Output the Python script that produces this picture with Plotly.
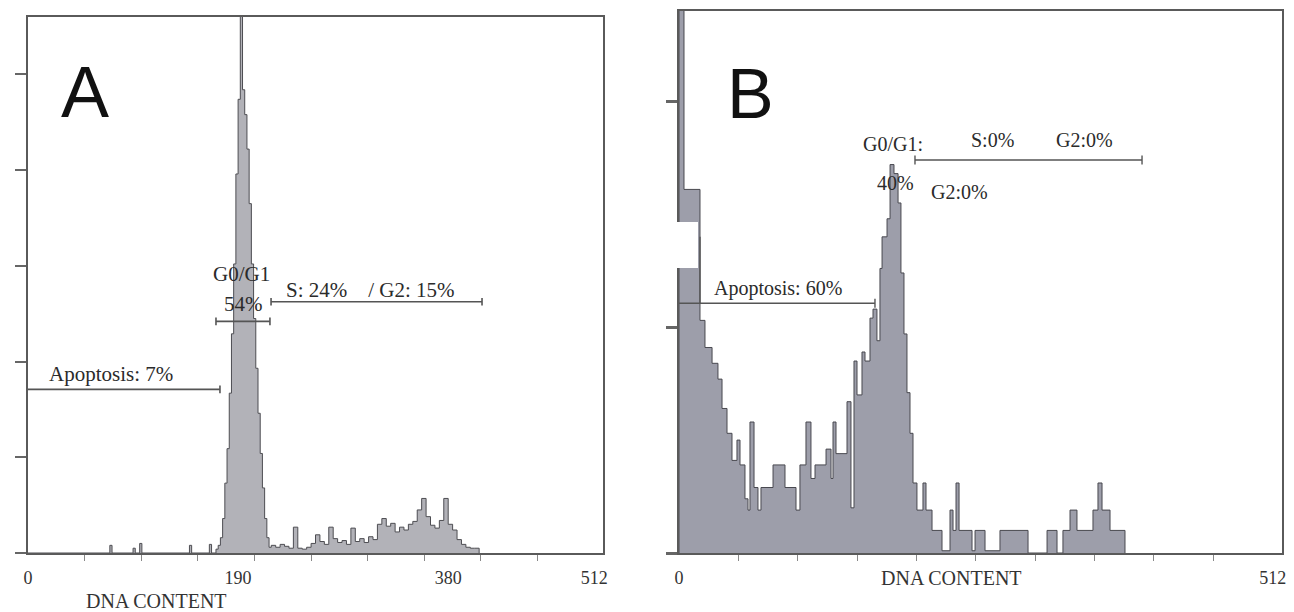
import plotly.graph_objects as go

# ---------------- Panel A data (channel left edges, counts) ----------------
a_left = [0, 74, 76, 95, 97, 101, 103, 146, 148, 164, 166,
          170, 172, 174, 176, 178, 180, 182, 184, 186, 188, 190, 192, 194, 196,
          198, 200, 202, 204, 206, 208, 210, 212, 214, 216, 218,
          220, 224, 228, 232, 236, 240, 244, 248, 252, 256, 260, 264, 268, 272,
          276, 280, 284, 288, 292, 296, 300, 304, 308, 312, 316, 320, 324, 328,
          332, 336, 340, 344, 348, 352, 356, 360, 364, 368, 372, 376, 380, 384,
          388, 392, 396, 400, 404]
a_counts = [0, 8, 0, 5, 0, 10, 0, 8, 0, 9, 0,
            4, 8, 16, 36, 73, 109, 167, 229, 302, 396, 474, 600, 484, 458,
            422, 365, 302, 245, 193, 146, 104, 68, 36, 16, 6,
            8, 6, 9, 7, 5, 27, 5, 4, 6, 10, 19, 12, 9, 27,
            15, 11, 13, 9, 26, 12, 15, 11, 17, 14, 30, 36, 28, 31,
            22, 27, 24, 30, 33, 45, 57, 38, 29, 26, 34, 57, 30, 24,
            14, 9, 6, 5, 5]
a_end = 408

# ---------------- Panel B data ----------------
b_left = [0, 4.3, 18.1, 22.4, 28.5, 33.6, 37.1, 41.4, 45.7, 50.0, 52.6, 56.9,
          59.5, 61.2, 64.7, 68.1, 70.7, 81.1, 91.4, 100.9, 104.3, 109.5, 113.8,
          117.3, 126.8, 131.1, 132.8, 135.4, 138.8, 144.9, 148.3, 150.9, 153.5,
          157.8, 160.4, 164.7, 167.3, 170.7, 173.3, 175.1, 179.4, 182.0, 185.4,
          188.9, 191.4, 194.0, 196.6, 199.2, 201.8, 205.2, 207.8, 210.4, 213.0,
          218.2, 226.8, 233.7, 236.3, 238.9, 241.5, 252.7, 255.3, 263.9, 276.8,
          301.0, 317.4, 326.0, 331.1, 337.2, 343.2, 357.0, 361.3, 364.8, 371.7]
b_counts = [300, 161, 103, 91, 84, 77, 64, 53, 41, 50, 39, 24,
            19, 58, 29, 19, 29, 39, 29, 19, 39, 58, 33,
            39, 46, 33, 58, 44, 44, 67, 20, 85, 70,
            89, 85, 104, 108, 94, 126, 140, 148, 172, 168,
            155, 124, 97, 71, 53, 31, 19, 19, 31, 19,
            10, 1, 19, 10, 31, 10, 1, 10, 1, 10,
            0, 10, 0, 10, 19, 10, 19, 31, 19, 10]
b_end = 384.6

# gates (marker bars)
a_gate_x0 = [0, 170, 219.8]
a_gate_x1 = [173.6, 218.8, 410.6]
a_gate_y = [171, 242, 262.5]
b_gate_x0 = [0, 203.5]
b_gate_x1 = [169, 399.3]
b_gate_y = [110.6, 174]
b_marker_x = 18.1
b_marker_y = [110.6, 140]

# labels
a_text = ["Apoptosis: 7%", "G0/G1", "54%", "S: 24%\u00a0\u00a0\u00a0\u00a0/ G2: 15%"]
a_text_x = [75.5, 193, 195, 309.7]
a_text_y = [187.5, 292, 260, 275]
b_text = ["Apoptosis: 60%", "G0/G1:", "S:0%", "G2:0%", "40%", "G2:0%"]
b_text_x = [85.4, 184.5, 270, 350, 187, 242]
b_text_y = [117, 181, 183, 183, 164, 160]

x_ticks = [0, 190, 380, 512]
b_x_ticks = [0, 512]
minor_x = [51.2, 102.4, 153.6, 204.8, 256.0, 307.2, 358.4, 409.6, 460.8]

SERIF = "Liberation Serif"
W, H = 1294, 612


def hist_xy(left, counts, end):
    return [left[0]] + left + [end], [0] + counts + [0]


def gate_xy(x0s, x1s, ys, tick, skip_zero=True):
    xs, yv = [], []
    for x0, x1, y in zip(x0s, x1s, ys):
        xs += [x0, x1, None]
        yv += [y, y, None]
        for xe in (x0, x1):
            if skip_zero and xe == 0:
                continue
            xs += [xe, xe, None]
            yv += [y - tick, y + tick, None]
    return xs, yv


fig = go.Figure()

ax, ay = hist_xy(a_left, a_counts, a_end)
fig.add_trace(go.Scatter(x=ax, y=ay, mode="lines", line=dict(shape="hv", color="#4d4d52", width=1),
                         fill="tozeroy", fillcolor="#b2b2b8", xaxis="x", yaxis="y", hoverinfo="skip"))
bx, by = hist_xy(b_left, b_counts, b_end)
fig.add_trace(go.Scatter(x=bx, y=by, mode="lines", line=dict(shape="hv", color="#48484f", width=1),
                         fill="tozeroy", fillcolor="#9d9eaa", xaxis="x2", yaxis="y2", hoverinfo="skip"))

gx, gy = gate_xy(a_gate_x0, a_gate_x1, a_gate_y, 4)
fig.add_trace(go.Scatter(x=gx, y=gy, mode="lines", line=dict(color="#555", width=1.6),
                         xaxis="x", yaxis="y", hoverinfo="skip"))
gx, gy = gate_xy(b_gate_x0, b_gate_x1, b_gate_y, 2)
gx += [b_marker_x, b_marker_x, None]
gy += b_marker_y + [None]
fig.add_trace(go.Scatter(x=gx, y=gy, mode="lines", line=dict(color="#555", width=1.4),
                         xaxis="x2", yaxis="y2", hoverinfo="skip"))

ann = []
for t, x, y in zip(a_text, a_text_x, a_text_y):
    ann.append(dict(text=t, x=x, y=y, xref="x", yref="y", showarrow=False,
                    xanchor="center", yanchor="middle",
                    font=dict(family=SERIF, size=21, color="#2b2b2b")))
for t, x, y in zip(b_text, b_text_x, b_text_y):
    ann.append(dict(text=t, x=x, y=y, xref="x2", yref="y2", showarrow=False,
                    xanchor="center", yanchor="middle",
                    font=dict(family=SERIF, size=20, color="#2b2b2b")))


def paper_text(text, px, py, size, family, color):
    return dict(text=text, x=px / W, y=1 - py / H, xref="paper", yref="paper", showarrow=False,
                xanchor="center", yanchor="middle", font=dict(family=family, size=size, color=color))


# panel letters and axis titles
ann.append(paper_text("A", 85, 92, 72, "Liberation Sans", "#111"))
ann.append(paper_text("B", 750, 94, 70, "Liberation Sans", "#111"))
ann.append(paper_text("DNA CONTENT", 156, 601, 20, SERIF, "#333"))
ann.append(paper_text("DNA CONTENT", 951, 578, 20, SERIF, "#333"))

axis_common = dict(showgrid=False, zeroline=False, showline=True, mirror=True,
                   linecolor="#5a5a5a", linewidth=1.6)

fig.update_layout(
    width=W, height=H, margin=dict(l=0, r=0, t=0, b=0, autoexpand=False),
    paper_bgcolor="white", plot_bgcolor="white", showlegend=False,
    xaxis=dict(domain=[28 / W, 603 / W], range=[0, 520], tickmode="array", tickvals=x_ticks,
               ticktext=[str(v) for v in x_ticks], ticks="", ticklabelstandoff=8,
               tickfont=dict(family=SERIF, size=18, color="#333"),
               minor=dict(tickmode="array", tickvals=minor_x, ticks="outside", ticklen=6,
                          tickcolor="#888", tickwidth=1), anchor="y", **axis_common),
    yaxis=dict(domain=[1 - 553 / H, 1 - 17 / H], range=[0, 560], tick0=0, dtick=100,
               ticks="outside", ticklen=11, tickwidth=1.5, tickcolor="#666",
               showticklabels=False, anchor="x", **axis_common),
    xaxis2=dict(domain=[679 / W, 1282 / W], range=[0, 520], tickmode="array", tickvals=b_x_ticks,
                ticktext=[str(v) for v in b_x_ticks], ticks="", ticklabelstandoff=8,
                tickfont=dict(family=SERIF, size=18, color="#333"),
                minor=dict(tickmode="array", tickvals=minor_x, ticks="outside", ticklen=6,
                           tickcolor="#888", tickwidth=1), anchor="y2", **axis_common),
    yaxis2=dict(domain=[1 - 553 / H, 1 - 11 / H], range=[0, 240], tick0=0, dtick=100,
                ticks="outside", ticklen=11, tickwidth=2.5, tickcolor="#666",
                showticklabels=False, anchor="x2", **axis_common),
    annotations=ann,
    shapes=[dict(type="rect", xref="paper", yref="paper", x0=664 / W, x1=698 / W,
                 y0=1 - 268 / H, y1=1 - 222 / H, fillcolor="white", line=dict(width=0), layer="above")],
)

fig.write_html("out.html", config={"displayModeBar": False},
               post_script="document.body.style.margin='0px';")
